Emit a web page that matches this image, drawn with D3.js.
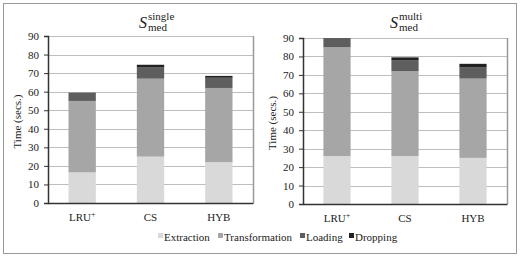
<!DOCTYPE html>
<html>
<head>
<meta charset="utf-8">
<script src="https://cdn.jsdelivr.net/npm/d3@7"></script>
<style>
  body { margin: 0; background: #fff; }
  svg text { font-family: "Liberation Serif", "Times New Roman", Times, serif; fill: #222; }
</style>
</head>
<body>
<div id="chart"></div>
<script>
// categories and series
var categories = ["LRU", "CS", "HYB"];
var phases = ["Extraction", "Transformation", "Loading", "Dropping"];
var colours = ["#d9d9d9", "#a6a6a6", "#5e5e5e", "#222222"];
var yTicks = [0, 10, 20, 30, 40, 50, 60, 70, 80, 90];

// seconds per phase, one array per category
var singleValues = {
       LRU: [16.5, 38.5, 4.5, 0],
       CS:  [25, 42, 6, 1.5],
       HYB: [22, 40, 5.5, 1]
};
var multiValues = {
       LRU: [26, 59, 5, 0],
       CS:  [26, 46, 6, 1.5],
       HYB: [25, 43, 6, 2]
};

var SERIF = '"Liberation Serif", "Times New Roman", Times, serif';

var W = 520, H = 257;
var svg = d3.select("#chart").append("svg")
       .attr("width", W).attr("height", H);

// outer frame
svg.append("rect")
       .attr("x", 3.5).attr("y", 3.5)
       .attr("width", 513).attr("height", 250)
       .style("fill", "none").style("stroke", "#999");

function drawPanel(values, box, sup, titleX) {
       var rows = categories.map(c => {
              var r = { cat: c };
              phases.forEach((p, i) => r[p] = values[c][i]);
              return r;
       });
       var series = d3.stack().keys(phases)(rows);

       var x = d3.scaleBand().domain(categories)
              .range([box.left, box.right]).paddingInner(0.6).paddingOuter(0.3);
       var y = d3.scaleLinear().domain([0, 90]).range([box.bottom, box.top]);

       var g = svg.append("g");

       // grid
       g.selectAll("line.grid").data(yTicks.slice(1))
              .enter().append("line")
              .attr("x1", box.left).attr("x2", box.right)
              .attr("y1", d => Math.round(y(d)) + 0.5)
              .attr("y2", d => Math.round(y(d)) + 0.5)
              .style("stroke", "#bdbdbd").style("stroke-width", 1);
       // right border
       g.append("line")
              .attr("x1", box.right + 0.5).attr("x2", box.right + 0.5)
              .attr("y1", box.top).attr("y2", box.bottom)
              .style("stroke", "#999").style("stroke-width", 1.5);

       // bars
       g.selectAll("g.layer").data(series)
              .enter().append("g")
              .style("fill", (d, i) => colours[i])
              .selectAll("rect").data(d => d)
              .enter().append("rect")
              .attr("x", d => x(d.data.cat))
              .attr("width", x.bandwidth())
              .attr("y", d => y(d[1]))
              .attr("height", d => y(d[0]) - y(d[1]));

       // y axis
       var ya = g.append("g")
              .attr("transform", "translate(" + box.left + ",0)")
              .call(d3.axisLeft(y).tickValues(yTicks).tickSize(4).tickPadding(5));
       ya.attr("font-family", SERIF).attr("font-size", 11);
       ya.select(".domain").style("stroke", "#333").style("stroke-width", 1.5);
       ya.selectAll(".tick line").style("stroke", "#333");
       ya.selectAll("text").style("fill", "#222");

       // x axis
       var xa = g.append("g")
              .attr("transform", "translate(0," + box.bottom + ")")
              .call(d3.axisBottom(x).tickSize(0).tickPadding(10));
       xa.attr("font-family", SERIF).attr("font-size", 11);
       xa.select(".domain").style("stroke", "#333").style("stroke-width", 1.5);
       xa.selectAll("text").style("fill", "#222")
              .each(function (d) {
                     if (d == "LRU") {
                            d3.select(this).append("tspan")
                                   .attr("dy", "-0.45em").style("font-size", "8px").text("+");
                     }
              });

       // y title
       g.append("text")
              .attr("transform", "translate(" + (box.left - 27) + "," + ((box.top + box.bottom) / 2 + 2) + ") rotate(-90)")
              .attr("text-anchor", "middle")
              .style("font-size", "11px")
              .text("Time (secs.)");

       // title S_med^sup
       g.append("text").attr("x", titleX).attr("y", 28)
              .style("font-size", "16px").style("font-style", "italic").text("S");
       g.append("text").attr("x", titleX + 9).attr("y", 31)
              .style("font-size", "11px").text("med");
       g.append("text").attr("x", titleX + 9).attr("y", 20)
              .style("font-size", "11px").text(sup);
}

drawPanel(singleValues, { left: 48, right: 253, top: 36, bottom: 203 }, "single", 139);
drawPanel(multiValues, { left: 303, right: 507, top: 38, bottom: 204 }, "multi", 390);

// legend
var legendX = [158, 218, 300, 349];
var lg = svg.append("g");
phases.forEach((p, i) => {
       lg.append("rect")
              .attr("x", legendX[i]).attr("y", 233)
              .attr("width", 5).attr("height", 5)
              .style("fill", colours[i]);
       lg.append("text")
              .attr("x", legendX[i] + 6).attr("y", 241)
              .style("font-size", "11px")
              .text(p);
});
</script>
</body>
</html>
